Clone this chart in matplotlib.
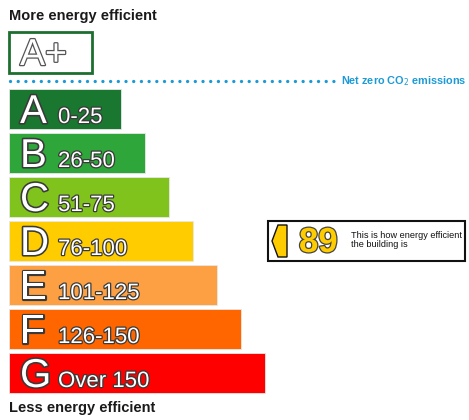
import matplotlib.pyplot as plt
import matplotlib.patheffects as pe
from matplotlib.patches import Rectangle, Polygon

# EPC bands, top (best) to bottom
letters = ['A', 'B', 'C', 'D', 'E', 'F', 'G']
ranges = ['0-25', '26-50', '51-75', '76-100', '101-125', '126-150', 'Over 150']
lower = [0, 26, 51, 76, 101, 126, 151]
colors = ['#19772f', '#2ea63a', '#7fc31c', '#ffcc00', '#fda044', '#ff6600', '#ff0000']
rating = 89

plt.rcParams['font.family'] = ['Liberation Sans', 'DejaVu Sans']

fig = plt.figure(figsize=(4.69, 4.2), dpi=100)
ax = fig.add_axes([0, 0, 1, 1])
ax.set_xlim(0, 469)
ax.set_ylim(420, 0)
ax.axis('off')

# pixel layout
left = 9
row0 = 109
row_step = 44
bar_h = 40
base_w = 112
w_step = 24

ycent = [row0 + row_step * i for i in range(len(letters))]
widths = [base_w + w_step * i for i in range(len(letters))]

ax.barh(ycent, widths, height=bar_h, left=left, color=colors,
        edgecolor='#e8e8e8', linewidth=0.6)

outline = [pe.withStroke(linewidth=2.3, foreground='#3a3a3a')]
for i, (l, r) in enumerate(zip(letters, ranges)):
    base = ycent[i] + bar_h / 2 - 6
    ax.text(left + 11, base, l, fontsize=29, color='white', va='baseline',
            ha='left', path_effects=outline)
    ax.text(left + 49, base, r, fontsize=16, color='white', va='baseline',
            ha='left', path_effects=[pe.withStroke(linewidth=1.8, foreground='#3a3a3a')])

# headings
ax.text(left, 16, 'More energy efficient', fontsize=10.5, fontweight='bold',
        color='#1a1a1a', va='center', ha='left')
ax.text(left, 408, 'Less energy efficient', fontsize=10.5, fontweight='bold',
        color='#1a1a1a', va='center', ha='left')

# A+ box
ax.add_patch(Rectangle((left, 31.5), 83, 41, facecolor='white',
                       edgecolor='#1d6f30', linewidth=2))
ax.text(left + 11, 65, 'A+', fontsize=27, color='white', va='baseline',
        ha='left', path_effects=[pe.withStroke(linewidth=1.8, foreground='#555555')])

# net zero dotted line
ax.plot([left + 1, 334], [81, 81], color='#1d9ad6', linewidth=2.4,
        linestyle=(0, (0.01, 2.3)), dash_capstyle='round')
ax.text(341, 81, 'Net zero CO$_2$ emissions', fontsize=7.8, fontweight='bold',
        color='#1d9ad6', va='center', ha='left')

# current rating indicator
band = max(i for i, lo in enumerate(lower) if rating >= lo)
yc = ycent[band]
ax.add_patch(Rectangle((268, yc - 20), 197, 40, facecolor='white',
                       edgecolor='#111111', linewidth=1.5))
ax.add_patch(Polygon([(272, yc), (278, yc - 16), (287, yc - 16),
                      (287, yc + 16), (278, yc + 16)], closed=True,
                     facecolor='#ffcc00', edgecolor='#111111', linewidth=1))
ax.text(299, yc + 11, str(rating), fontsize=25, fontweight='bold',
        color='#ffcc00', va='baseline', ha='left',
        path_effects=[pe.withStroke(linewidth=1.8, foreground='#444444')])
ax.text(351, yc - 6, 'This is how energy efficient', fontsize=6.6,
        color='#111111', va='center', ha='left')
ax.text(351, yc + 3.5, 'the building is', fontsize=6.6,
        color='#111111', va='center', ha='left')

fig.savefig('out.png', dpi=100)
